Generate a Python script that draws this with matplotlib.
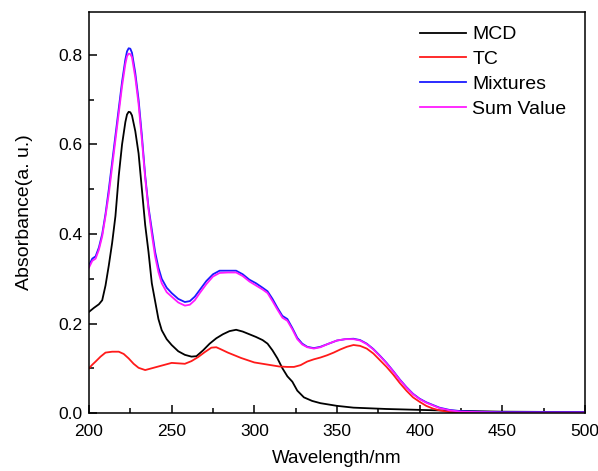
import numpy as np
import matplotlib.pyplot as plt
from matplotlib.ticker import MultipleLocator

plt.rcParams['font.family'] = ['Liberation Sans', 'DejaVu Sans']

# MCD
mcd_x = [200, 203, 206, 208, 210, 212, 214, 216, 218, 220, 222, 223, 224, 225,
         226, 228, 230, 232, 234, 236, 238, 240, 242, 244, 247, 250, 254, 258,
         262, 265, 269, 273, 277, 281, 285, 289, 293, 297, 301, 305, 308, 311,
         314, 317, 320, 323, 326, 330, 335, 340, 350, 360, 380, 400, 420, 450,
         500]
mcd_y = [0.226, 0.235, 0.243, 0.252, 0.285, 0.33, 0.38, 0.44, 0.53, 0.60, 0.65,
         0.667, 0.673, 0.672, 0.665, 0.63, 0.58, 0.50, 0.42, 0.36, 0.29, 0.25,
         0.21, 0.185, 0.165, 0.152, 0.138, 0.13, 0.126, 0.127, 0.140, 0.155,
         0.167, 0.176, 0.183, 0.186, 0.182, 0.176, 0.170, 0.163, 0.155, 0.140,
         0.122, 0.100, 0.082, 0.070, 0.050, 0.035, 0.027, 0.022, 0.016, 0.012,
         0.009, 0.007, 0.005, 0.003, 0.002]

# TC
tc_x = [200, 202, 204, 207, 210, 214, 218, 221, 224, 227, 230, 234, 238, 242,
        246, 250, 254, 258, 262, 266, 270, 274, 277, 280, 284, 288, 292, 296,
        300, 305, 310, 315, 320, 324, 328, 332, 336, 340, 344, 348, 352, 356,
        360, 364, 368, 372, 376, 380, 384, 388, 392, 396, 400, 404, 408, 412,
        418, 425, 450, 500]
tc_y = [0.10, 0.108, 0.115, 0.126, 0.135, 0.137, 0.137, 0.132, 0.122, 0.110,
        0.101, 0.096, 0.100, 0.104, 0.108, 0.112, 0.111, 0.110, 0.116, 0.125,
        0.136, 0.146, 0.147, 0.142, 0.135, 0.129, 0.123, 0.118, 0.113, 0.110,
        0.107, 0.104, 0.103, 0.103, 0.107, 0.115, 0.120, 0.124, 0.129, 0.135,
        0.142, 0.148, 0.152, 0.150, 0.144, 0.133, 0.118, 0.103, 0.086, 0.067,
        0.050, 0.035, 0.025, 0.016, 0.010, 0.006, 0.002, 0.001, 0.0, 0.0]

# Mixtures and Sum Value share wavelengths
mix_x = [200, 202, 204, 206, 208, 210, 212, 214, 216, 218, 220, 222, 223, 224,
         225, 226, 228, 230, 232, 234, 236, 238, 240, 242, 244, 247, 250, 254,
         258, 261, 264, 267, 271, 275, 279, 284, 289, 293, 297, 301, 305, 308,
         311, 314, 317, 320, 323, 326, 329, 332, 336, 340, 345, 350, 355, 360,
         364, 368, 372, 376, 380, 384, 388, 392, 396, 400, 404, 408, 412, 418,
         425, 435, 450, 500]
mix_y = [0.33, 0.345, 0.35, 0.37, 0.40, 0.445, 0.50, 0.56, 0.62, 0.68, 0.74,
         0.79, 0.808, 0.815, 0.814, 0.805, 0.76, 0.70, 0.62, 0.53, 0.46, 0.41,
         0.36, 0.325, 0.30, 0.28, 0.268, 0.255, 0.248, 0.25, 0.26, 0.275, 0.295,
         0.31, 0.318, 0.318, 0.318, 0.31, 0.298, 0.29, 0.28, 0.272, 0.255,
         0.235, 0.217, 0.21, 0.19, 0.168, 0.155, 0.148, 0.145, 0.148, 0.155,
         0.162, 0.165, 0.166, 0.163, 0.155, 0.143, 0.128, 0.112, 0.094, 0.075,
         0.058, 0.043, 0.032, 0.024, 0.018, 0.012, 0.007, 0.004, 0.003, 0.002,
         0.002]
sum_y = [0.325, 0.34, 0.345, 0.365, 0.395, 0.44, 0.49, 0.55, 0.61, 0.67, 0.73,
         0.78, 0.797, 0.803, 0.802, 0.795, 0.75, 0.69, 0.61, 0.525, 0.455, 0.40,
         0.35, 0.315, 0.29, 0.27, 0.26, 0.247, 0.24, 0.242, 0.252, 0.268, 0.288,
         0.305, 0.313, 0.314, 0.314, 0.306, 0.294, 0.285, 0.276, 0.268, 0.25,
         0.231, 0.213, 0.206, 0.187, 0.165, 0.153, 0.147, 0.144, 0.147, 0.155,
         0.162, 0.165, 0.165, 0.162, 0.154, 0.142, 0.127, 0.111, 0.093, 0.074,
         0.057, 0.042, 0.031, 0.023, 0.017, 0.011, 0.006, 0.003, 0.002, 0.001,
         0.001]

fig = plt.figure(figsize=(5.98, 4.71), dpi=100)
ax = fig.add_axes([0.1488, 0.1231, 0.8294, 0.8514])

ax.plot(mcd_x, mcd_y, color="black", lw=1.3, label="MCD")
ax.plot(tc_x, tc_y, color="#ff1a1a", lw=1.3, label="TC")
ax.plot(mix_x, mix_y, color="#1a1aff", lw=1.3, label="Mixtures")
ax.plot(mix_x, sum_y, color="#ff1aff", lw=1.3, label="Sum Value")

ax.set_xlim(200, 500)
ax.set_ylim(0, 0.896)
ax.xaxis.set_major_locator(MultipleLocator(50))
ax.xaxis.set_minor_locator(MultipleLocator(25))
ax.yaxis.set_major_locator(MultipleLocator(0.2))
ax.yaxis.set_minor_locator(MultipleLocator(0.1))
ax.tick_params(which="both", direction="in", top=False, right=False,
               labelsize=12.5, width=1.1)
ax.tick_params(which="major", length=6)
ax.tick_params(axis="x", which="major", pad=8)
ax.tick_params(axis="y", which="major", pad=5)
ax.tick_params(which="minor", length=3.5)
for s in ax.spines.values():
    s.set_linewidth(1.1)

ax.set_xlabel("Wavelength/nm", fontsize=13.5, labelpad=7.5)
ax.set_ylabel("Absorbance(a. u.)", fontsize=14, labelpad=18)

ax.legend(loc="upper right", bbox_to_anchor=(0.978, 0.985), frameon=False,
          fontsize=14, handlelength=2.4, handletextpad=0.3, labelspacing=0.37,
          borderaxespad=0)

fig.savefig("out.png", dpi=100)
